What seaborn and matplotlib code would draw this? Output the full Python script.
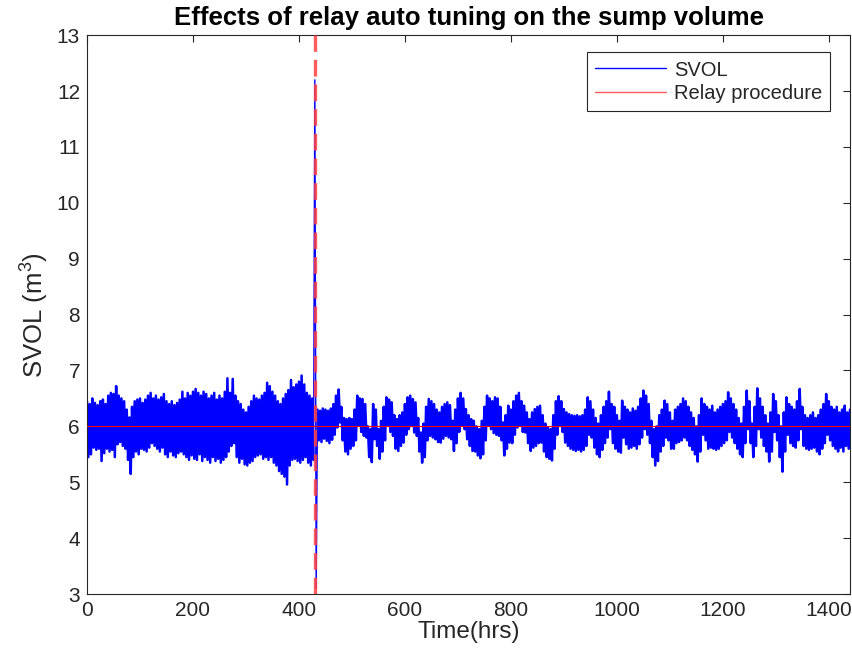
import numpy as np
import pandas as pd
import matplotlib
matplotlib.use("Agg")
import matplotlib.pyplot as plt
import seaborn as sns

# ---- data (5-hr bins: upper / lower extent of SVOL) ----
sample_step_hrs = 5
relay_time = 430
setpoint = 6.0

# before relay (t = 0 .. 425)
upper_pre = [6.45, 6.40, 6.50, 6.42, 6.38, 6.45, 6.48, 6.40, 6.55, 6.60,
             6.58, 6.72, 6.55, 6.50, 6.45, 6.30, 6.16, 6.35, 6.45, 6.48,
             6.50, 6.42, 6.48, 6.55, 6.60, 6.50, 6.55, 6.48, 6.52, 6.58,
             6.45, 6.40, 6.45, 6.38, 6.42, 6.48, 6.62, 6.50, 6.60, 6.55,
             6.62, 6.67, 6.60, 6.55, 6.62, 6.58, 6.50, 6.55, 6.60, 6.48,
             6.55, 6.50, 6.62, 6.86, 6.60, 6.85, 6.55, 6.45, 6.40, 6.30,
             6.25, 6.35, 6.45, 6.55, 6.50, 6.48, 6.55, 6.60, 6.78, 6.72,
             6.62, 6.55, 6.45, 6.40, 6.50, 6.58, 6.65, 6.83, 6.70, 6.75,
             6.80, 6.91, 6.75, 6.60, 6.55, 6.50]
lower_pre = [5.45, 5.50, 5.62, 5.58, 5.60, 5.38, 5.52, 5.60, 5.55, 5.58,
             5.45, 5.68, 5.72, 5.65, 5.60, 5.40, 5.15, 5.45, 5.55, 5.50,
             5.60, 5.58, 5.55, 5.62, 5.70, 5.65, 5.60, 5.55, 5.62, 5.50,
             5.45, 5.55, 5.48, 5.45, 5.52, 5.55, 5.50, 5.45, 5.40, 5.48,
             5.42, 5.40, 5.50, 5.38, 5.45, 5.40, 5.35, 5.45, 5.38, 5.42,
             5.35, 5.40, 5.45, 5.55, 5.65, 5.70, 5.45, 5.35, 5.42, 5.32,
             5.30, 5.35, 5.38, 5.45, 5.48, 5.50, 5.42, 5.45, 5.40, 5.45,
             5.35, 5.30, 5.20, 5.15, 5.10, 4.96, 5.30, 5.40, 5.42, 5.38,
             5.35, 5.40, 5.45, 5.35, 5.30, 5.40]

# relay step test at t = 430
relay_upper = [12.2]
relay_lower = [3.1]

# after relay (t = 435 .. 1440)
upper_post = [6.30, 6.28, 6.32, 6.30, 6.28, 6.32, 6.40, 6.55, 6.66, 6.35,
              6.15, 6.13, 6.15, 6.13, 6.30, 6.55, 6.50, 6.49, 6.40, 6.00,
              5.95, 6.40, 6.30, 5.95, 6.10, 6.35, 6.52, 6.48, 6.43, 6.20,
              6.13, 6.20, 6.25, 6.40, 6.52, 6.55, 6.49, 6.43, 6.15, 5.89,
              6.05, 6.35, 6.49, 6.45, 6.40, 6.30, 6.25, 6.35, 6.40, 6.43,
              6.38, 6.10, 6.30, 6.50, 6.60, 6.50, 6.31, 6.20, 6.13, 6.10,
              6.00, 5.95, 6.10, 6.35, 6.55, 6.50, 6.45, 6.52, 6.50, 6.35,
              6.07, 6.20, 6.37, 6.30, 6.45, 6.55, 6.60, 6.45, 6.37, 6.25,
              6.13, 6.25, 6.31, 6.35, 6.37, 6.20, 6.05, 5.98, 5.95, 6.20,
              6.45, 6.54, 6.45, 6.31, 6.25, 6.22, 6.20, 6.19, 6.20, 6.18,
              6.20, 6.30,
              6.52, 6.45, 6.30, 6.15, 6.05, 6.20, 6.35, 6.45,
              6.62, 6.40, 6.35, 6.20, 6.10, 6.46, 6.35, 6.30, 6.25, 6.32,
              6.28, 6.35, 6.50, 6.64, 6.55, 6.40, 6.10, 5.95, 6.00, 6.20,
              6.30, 6.46, 6.40, 6.25, 6.10, 6.30, 6.35, 6.40, 6.50, 6.45,
              6.35, 6.25, 6.15, 6.00, 6.20, 6.50, 6.40, 6.35, 6.30, 6.37,
              6.25, 6.30, 6.35, 6.40, 6.45, 6.61, 6.50, 6.40, 6.30, 6.15,
              6.05, 6.35, 6.64, 6.45, 6.05, 6.35, 6.68, 6.50, 6.35, 6.20,
              6.05, 6.25, 6.58, 6.45, 6.20, 6.00, 6.25, 6.52, 6.40, 6.35,
              6.30, 6.45, 6.67, 6.35, 6.20, 6.15, 6.20, 6.25, 6.15, 6.20,
              6.30, 6.40, 6.58, 6.45, 6.35, 6.30, 6.35, 6.25, 6.30, 6.37,
              6.25, 6.30]
lower_post = [5.75, 5.72, 5.78, 5.74, 5.70, 5.76, 5.85, 5.98, 6.07, 5.75,
              5.55, 5.50, 5.60, 5.65, 5.75, 6.01, 5.90, 5.83, 5.80, 5.45,
              5.36, 5.77, 5.65, 5.42, 5.55, 5.75, 6.01, 5.90, 5.83, 5.60,
              5.56, 5.65, 5.71, 5.85, 5.95, 6.01, 5.89, 5.83, 5.55, 5.35,
              5.45, 5.75, 5.83, 5.80, 5.77, 5.72, 5.71, 5.78, 5.83, 5.80,
              5.77, 5.56, 5.70, 5.90, 6.01, 5.95, 5.77, 5.65, 5.56, 5.55,
              5.48, 5.43, 5.50, 5.75, 6.01, 5.95, 5.88, 5.85, 5.83, 5.75,
              5.48, 5.60, 5.71, 5.70, 5.85, 5.98, 6.01, 5.90, 5.89, 5.70,
              5.56, 5.62, 5.65, 5.70, 5.71, 5.55, 5.45, 5.42, 5.39, 5.60,
              5.85, 6.01, 5.90, 5.71, 5.65, 5.60, 5.58, 5.56, 5.58, 5.55,
              5.58, 5.65,
              5.85, 5.80, 5.62, 5.50, 5.45, 5.58, 5.70, 5.80,
              5.95, 5.70, 5.60, 5.55, 5.53, 5.80, 5.68, 5.60, 5.62, 5.65,
              5.60, 5.68, 5.80, 5.95, 5.85, 5.70, 5.45, 5.30, 5.38, 5.55,
              5.65, 5.80, 5.75, 5.60, 5.60, 5.70, 5.72, 5.75, 5.80, 5.75,
              5.65, 5.58, 5.50, 5.37, 5.55, 5.85, 5.75, 5.60, 5.62, 5.60,
              5.58, 5.60, 5.65, 5.70, 5.75, 5.90, 5.80, 5.70, 5.60, 5.50,
              5.45, 5.70, 5.95, 5.70, 5.45, 5.65, 5.95, 5.80, 5.65, 5.55,
              5.37, 5.55, 5.90, 5.75, 5.45, 5.19, 5.55, 5.85, 5.70, 5.65,
              5.62, 5.75, 5.95, 5.65, 5.60, 5.58, 5.60, 5.62, 5.55, 5.50,
              5.60, 5.70, 5.85, 5.75, 5.65, 5.60, 5.55, 5.62, 5.55, 5.65,
              5.60, 5.58]

# ---- build the series (alternate upper/lower samples within each bin) ----
upper_all = upper_pre + relay_upper + upper_post
lower_all = lower_pre + relay_lower + lower_post
n = len(upper_all)
bin_start = np.arange(n) * sample_step_hrs
times = np.empty(2 * n)
vals = np.empty(2 * n)
times[0::2] = bin_start
times[1::2] = bin_start + sample_step_hrs / 2
vals[0::2] = upper_all
vals[1::2] = lower_all
df = pd.DataFrame({"Time(hrs)": times, "SVOL": vals})

i_relay = 2 * len(upper_pre)          # index of the relay spike top
df_pre = df.iloc[:i_relay]
df_relay = df.iloc[i_relay - 1:i_relay + 3]
df_post = df.iloc[i_relay + 2:]

# ---- plot ----
sns.set_style("white")
plt.rcParams["font.family"] = ["Liberation Sans", "DejaVu Sans"]
plt.rcParams["mathtext.fontset"] = "custom"
plt.rcParams["mathtext.rm"] = "Liberation Sans"

fig = plt.figure(figsize=(8.53, 6.63), dpi=100)
ax = fig.add_axes([0.102, 0.104, 0.8945, 0.843])

blue = (0, 0, 1)
sns.lineplot(data=df_pre, x="Time(hrs)", y="SVOL", sort=False, ax=ax,
             color=blue, linewidth=1.8, label="SVOL", estimator=None)
sns.lineplot(data=df_relay, x="Time(hrs)", y="SVOL", sort=False, ax=ax,
             color=blue, linewidth=1.0, estimator=None)
sns.lineplot(data=df_post, x="Time(hrs)", y="SVOL", sort=False, ax=ax,
             color=blue, linewidth=1.8, estimator=None)
ax.axhline(setpoint, color=(1, 0, 0), linewidth=0.8, zorder=3)
ax.axvline(relay_time, color=(1, 0.25, 0.25), alpha=0.85, linewidth=2.4,
           linestyle=(0, (5, 2.4)), zorder=4, label="Relay procedure")

ax.set_xlim(0, 1440)
ax.set_ylim(3, 13)
ax.set_xticks(np.arange(0, 1401, 200))
ax.set_yticks(np.arange(3, 14, 1))

dark = "#262626"
for s in ax.spines.values():
    s.set_color(dark)
    s.set_linewidth(0.8)
ax.tick_params(direction="in", length=5, width=0.8, colors=dark,
               labelsize=15, top=True, right=True, pad=5)
ax.set_xlabel("Time(hrs)", fontsize=17.5, color=dark, labelpad=1)
ax.set_ylabel("SVOL (m$^3$)", fontsize=18.5, color=dark, labelpad=5)
ax.set_title("Effects of relay auto tuning on the sump volume",
             fontsize=18.5, fontweight="bold", color="black", pad=7)

handles, labels = ax.get_legend_handles_labels()
leg = ax.legend(handles, labels, loc="upper right", fontsize=14.5,
                frameon=True, fancybox=False, framealpha=1,
                edgecolor=dark, borderpad=0.4, handlelength=3.5,
                handletextpad=0.4, labelspacing=0.2,
                bbox_to_anchor=(0.987, 0.987))
leg.get_frame().set_linewidth(0.8)
for line in leg.get_lines():
    line.set_linewidth(1.0)
    line.set_linestyle("-")

fig.savefig("out.png", dpi=100)
